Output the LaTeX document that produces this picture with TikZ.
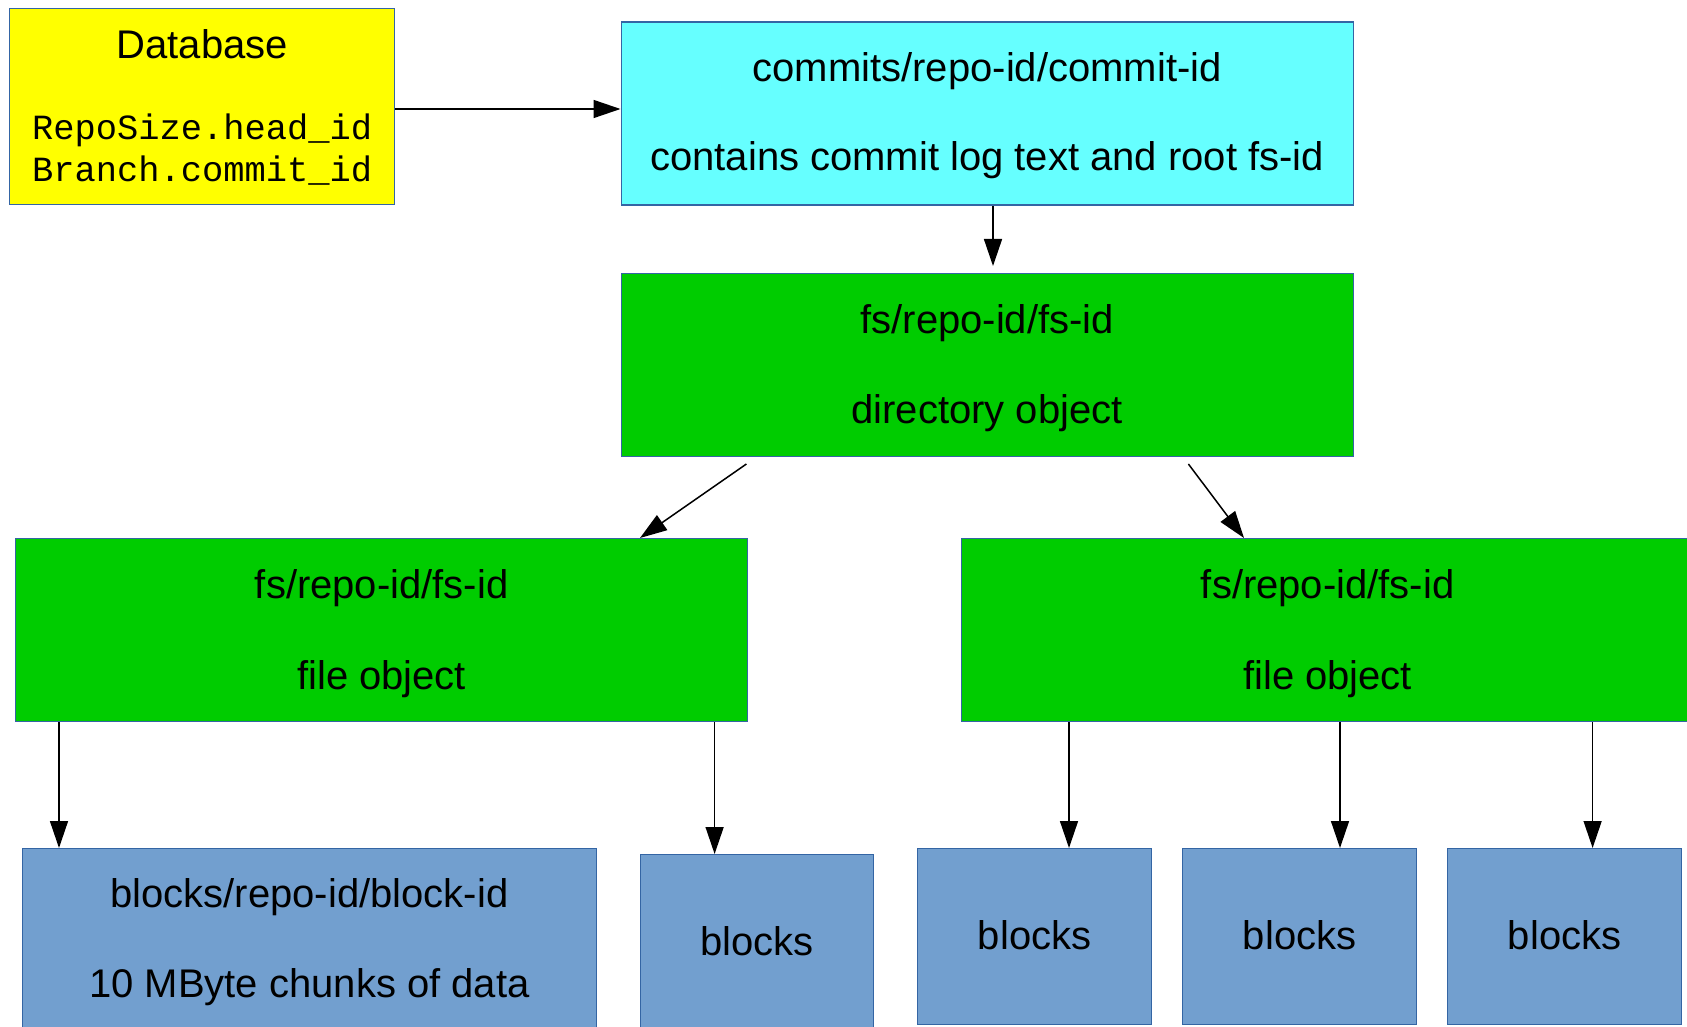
\documentclass[tikz,border=0pt]{standalone}
\usepackage{fontspec}
\setmainfont{Liberation Sans}
\setmonofont{Liberation Mono}
\usetikzlibrary{arrows.meta}
\definecolor{bordc}{HTML}{3465A4}
\definecolor{dbfill}{HTML}{FFFF00}
\definecolor{cyfill}{HTML}{66FFFF}
\definecolor{grfill}{HTML}{00CC00}
\definecolor{blfill}{HTML}{729FCF}
\tikzset{
  box/.style={draw=bordc, line width=0.65pt, rectangle, inner sep=0pt, anchor=north west},
  widebox/.style={box, minimum width=366pt, minimum height=91.5pt},
  blkbox/.style={box, fill=blfill, minimum width=117pt, minimum height=88pt},
  txt/.style={anchor=base, inner sep=0pt, font=\fontsize{20}{24}\selectfont},
  mono/.style={anchor=base, inner sep=0pt, font=\fontsize{17.7}{21}\selectfont\ttfamily},
  arr/.style={-{Triangle[length=13.5pt,width=9pt]}, line width=0.75pt, black}
}
\begin{document}
\begin{tikzpicture}[x=0.5pt,y=-0.5pt]
\useasboundingbox (0,0) rectangle (1687,1027);
\clip (0,0) rectangle (1687,1027);
% boxes
\node[box, fill=dbfill, minimum width=192.5pt, minimum height=98pt] (db) at (9,8) {};
\node[widebox, fill=cyfill] (commits) at (620.5,21.5) {};
\node[widebox, fill=grfill] (dir) at (620.5,273) {};
\node[widebox, fill=grfill] (fileL) at (15,538) {};
\node[widebox, fill=grfill] (fileR) at (961,538) {};
\node[box, fill=blfill, minimum width=287.25pt, minimum height=91.5pt] (bigblk) at (21.5,848) {};
\node[blkbox, minimum width=116.5pt] (blk1) at (640,854) {};
\node[blkbox] (blk2) at (917,848) {};
\node[blkbox] (blk3) at (1182,848) {};
\node[blkbox] (blk4) at (1447,848) {};
% texts
\node[txt] (tdb) at (db.north |- 0,58.3) {Database};
\node[mono] (tdb1) at (db.north |- 0,140) {RepoSize.head\_id};
\node[mono] (tdb2) at (db.north |- 0,181.7) {Branch.commit\_id};
\node[txt] (tc1) at (commits.north |- 0,81.5) {commits/repo-id/commit-id};
\node[txt] (tc2) at (commits.north |- 0,170.5) {contains commit log text and root fs-id};
\node[txt] (td1) at (dir.north |- 0,334) {fs/repo-id/fs-id};
\node[txt] (td2) at (dir.north |- 0,423.3) {directory object};
\node[txt] (tfl1) at (fileL.north |- 0,598.5) {fs/repo-id/fs-id};
\node[txt] (tfl2) at (fileL.north |- 0,689) {file object};
\node[txt] (tfr1) at (fileR.north |- 0,598.5) {fs/repo-id/fs-id};
\node[txt] (tfr2) at (fileR.north |- 0,689) {file object};
\node[txt] (tb1) at (bigblk.north |- 0,907.3) {blocks/repo-id/block-id};
\node[txt] (tb2) at (bigblk.north |- 0,997) {10 MByte chunks of data};
\node[txt] (tk1) at (blk1.north |- 0,955) {blocks};
\node[txt] (tk2) at (blk2.north |- 0,949) {blocks};
\node[txt] (tk3) at (blk3.north |- 0,949) {blocks};
\node[txt] (tk4) at (blk4.north |- 0,949) {blocks};
% connectors
\draw[arr] (db.east |- 0,109) -- (commits.west |- 0,109);
\draw[arr, shorten >=3.5pt] (commits.south -| 993,0) -- (dir.north -| 993,0);
\draw[arr] ([shift={(125.9,6.7)}]dir.south west) -- ([shift={(625,0)}]fileL.north west);
\draw[arr] ([shift={(567.9,6.7)}]dir.south west) -- ([shift={(283,0)}]fileR.north west);
\draw[arr] (fileL.south -| 59,0) -- (bigblk.north -| 59,0);
\draw[arr] (fileL.south -| 714.6,0) -- (blk1.north -| 714.6,0);
\draw[arr] (fileR.south -| 1069,0) -- (blk2.north -| 1069,0);
\draw[arr] (fileR.south -| 1340,0) -- (blk3.north -| 1340,0);
\draw[arr] (fileR.south -| 1592.6,0) -- (blk4.north -| 1592.6,0);
\end{tikzpicture}
\end{document}
